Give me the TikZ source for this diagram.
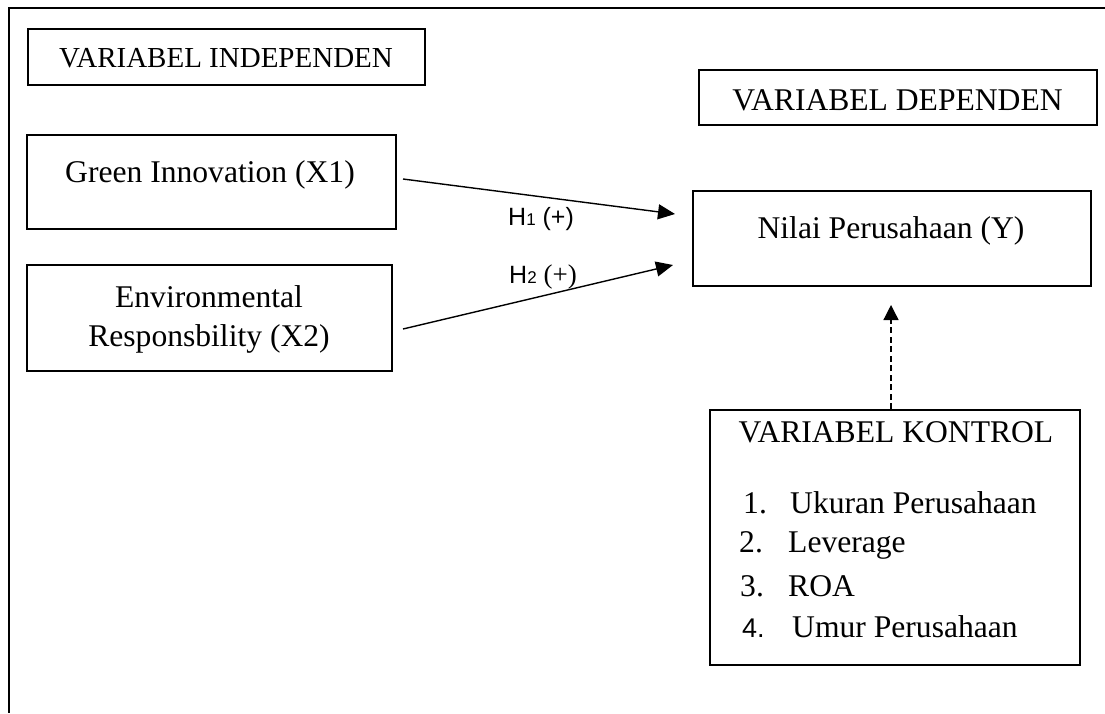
\documentclass[tikz,border=0pt]{standalone}
\usepackage{fontspec}
\setmainfont{Liberation Serif}
\newfontfamily\arialf{Liberation Sans}
\usetikzlibrary{arrows.meta}
\begin{document}
\begin{tikzpicture}[x=1pt,y=-1pt,
  box/.style={draw,line width=2pt,inner sep=0pt,anchor=center},
  txt/.style={font=\fontsize{31.6}{38}\selectfont,inner sep=0pt,anchor=base},
  itm/.style={font=\fontsize{31.6}{38}\selectfont,inner sep=0pt,anchor=base west},
  lab/.style={font=\arialf\fontsize{25}{30}\selectfont,inner sep=0pt,anchor=base west},
  arr/.style={line width=1.4pt,-{Triangle[length=17pt,width=15pt]}},
  darr/.style={line width=1.3pt,dash pattern=on 6pt off 3.5pt,-{Triangle[length=15pt,width=15pt]}}
]
\useasboundingbox (0,0) rectangle (1105,713);
% outer frame (only top and left sides visible)
\draw[line width=2pt] (1105,8) -- (9,8) -- (9,713);

% boxes
\node[box,minimum width=397pt,minimum height=56pt] (indep) at (226.5,57) {};
\node[box,minimum width=398pt,minimum height=55pt] (dep) at (898,97.5) {};
\node[box,minimum width=369pt,minimum height=94pt] (green) at (211.5,182) {};
\node[box,minimum width=365pt,minimum height=106pt] (env) at (209.5,318) {};
\node[box,minimum width=398pt,minimum height=95pt] (nilai) at (891.5,238.5) {};
\node[box,minimum width=370pt,minimum height=255pt] (kontrol) at (895,537.5) {};

% texts
\node[txt,font=\fontsize{29}{34}\selectfont] (indept) at (226,67) {VARIABEL INDEPENDEN};
\node[txt] (dept) at (897.5,110) {VARIABEL DEPENDEN};
\node[txt] (greent) at (210,182) {Green Innovation (X1)};
\node[txt] (envt1) at (209,307) {Environmental};
\node[txt] (envt2) at (209,346) {Responsbility (X2)};
\node[txt] (nilait) at (891,238) {Nilai Perusahaan (Y)};
\node[txt] (kontrolt) at (896,442) {VARIABEL KONTROL};

\node[itm] (n1) at (743,513) {1.};
\node[itm] (i1) at (790,513) {Ukuran Perusahaan};
\node[itm] (n2) at (739,552) {2.};
\node[itm] (i2) at (788,552) {Leverage};
\node[itm] (n3) at (740,596) {3.};
\node[itm] (i3) at (788,596) {ROA};
\node[itm,font=\arialf\fontsize{27}{32}\selectfont] (n4) at (742,637) {4.};
\node[itm] (i4) at (792,637) {Umur Perusahaan};

% hypothesis labels
\node[lab] (h1) at (508,225) {H{\fontsize{17}{17}\selectfont 1} (+)};
\node[lab] (h2) at (509,283) {H{\fontsize{17}{17}\selectfont 2} {\rmfamily\fontsize{27}{32}\selectfont (+)}};

% connectors
\coordinate (a1s) at (403,179);
\coordinate (a1e) at (675,214);
\coordinate (a2s) at (403,329);
\coordinate (a2e) at (673,265);
\coordinate (a3s) at (891,409);
\coordinate (a3e) at (891,305);
\draw[arr] (a1s) -- (a1e);
\draw[arr] (a2s) -- (a2e);
\draw[darr] (a3s) -- (a3e);
\end{tikzpicture}
\end{document}
